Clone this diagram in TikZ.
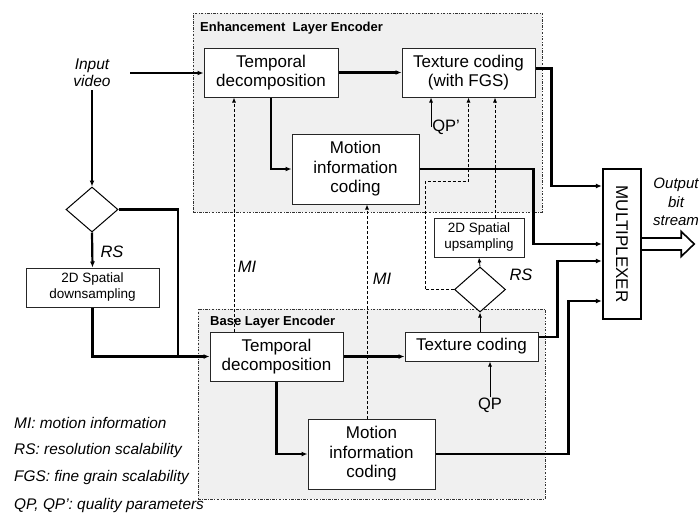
\documentclass[tikz,border=0pt]{standalone}
\usepackage{fontspec}
\setmainfont{Liberation Sans}
\usetikzlibrary{positioning,shapes.geometric,arrows.meta}
\tikzset{>={Latex[length=6pt,width=5pt]}}
\tikzset{
  block/.style={draw=black!85, fill=white, line width=1pt, align=center, inner sep=0pt, font=\fontsize{17}{19.5}\selectfont},
  smallblock/.style={block, font=\fontsize{13.5}{16}\selectfont},
  decision/.style={diamond, draw, fill=white, line width=1pt, inner sep=0pt, minimum width=52pt, minimum height=45pt},
  encframe/.style={draw=black!80, fill=gray!12, line width=0.7pt, dash pattern=on 2.5pt off 1.5pt on 0.7pt off 1.5pt, inner sep=0pt},
  layertitle/.style={font=\fontsize{13}{15}\selectfont\bfseries, inner sep=0pt, anchor=base west},
  note/.style={font=\fontsize{16.5}{18}\selectfont\itshape, inner sep=0pt},
  param/.style={font=\fontsize{16.5}{18}\selectfont, inner sep=0pt},
  keytext/.style={font=\fontsize{15.4}{18}\selectfont\itshape, inner sep=0pt, anchor=west},
  flow/.style={->, line width=2.2pt},
  thinflow/.style={->, line width=0.8pt, >={Latex[length=5pt,width=4pt]}},
  mi/.style={thinflow, dash pattern=on 3pt off 2pt},
}

\begin{document}
\begin{tikzpicture}[x=1pt, y=-1pt]
\useasboundingbox (0,0) rectangle (700,514);
% encoder layers
\node[encframe, minimum width=349pt, minimum height=199pt] (enh) at (367.5,112.5) {};
\node[encframe, minimum width=347pt, minimum height=190pt] (base) at (371.5,404) {};
\node[layertitle] (enhtitle) at (200,31) {Enhancement\ \ Layer Encoder};
\node[layertitle] (basetitle) at (210,325) {Base Layer Encoder};

% enhancement layer
\node[block, minimum width=134pt, minimum height=49pt] (enhtemp) at (271,72.5) {Temporal\\decomposition};
\node[block, minimum width=133pt, minimum height=49pt] (enhtex) at (468.5,72.5) {Texture coding\\(with FGS)};
\node[block, minimum width=127pt, minimum height=70pt] (enhmot) at (355.5,169) {Motion\\information\\coding};
% base layer
\node[block, minimum width=133pt, minimum height=49pt] (basetemp) at (276.5,356.5) {Temporal\\decomposition};
\node[block, minimum width=133pt, minimum height=29pt] (basetex) at (471.5,346.5) {Texture coding};
\node[block, minimum width=127pt, minimum height=70pt] (basemot) at (371.5,454) {Motion\\information\\coding};

% spatial scaling
\node[decision] (split) at (92,209.5) {};
\node[smallblock, minimum width=133pt, minimum height=39pt] (down) at (92.5,287.5) {2D Spatial\\downsampling};
\node[decision, minimum width=51pt] (upsel) at (480,289.5) {};
\node[smallblock, minimum width=90pt, minimum height=39pt] (up) at (479,237.5) {2D Spatial\\upsampling};
\node[block, line width=2.4pt, draw=black, minimum width=38pt, minimum height=150pt] (mux) at (622,244) {\rotatebox{-90}{MULTIPLEXER}};

% labels
\node[note, align=center, font=\fontsize{15.5}{17}\selectfont\itshape] (invid) at (92,73) {Input\\video};
\node[note, align=center, font=\fontsize{15}{18.5}\selectfont\itshape] (outbit) at (676,202) {Output\\bit\\stream};
\node[note] (rsdown) at (112,252) {RS};
\node[note] (rsup) at (521,275) {RS};
\node[note] (mienh) at (247,267) {MI};
\node[note] (mibase) at (382,279) {MI};
\node[param] (qpp) at (446,127) {QP’};
\node[param] (qp) at (490,405) {QP};
\coordinate (join) at (178,356.5);
\coordinate (bend) at (425,181);

% legend
\node[keytext] (k1) at (14,423) {MI: motion information};
\node[keytext] (k2) at (14,451) {RS: resolution scalability};
\node[keytext] (k3) at (14,478) {FGS: fine grain scalability};
\node[keytext] (k4) at (14,506) {QP, QP’: quality parameters};

% main flow
\draw[flow, shorten <=19.5pt] (invid.east) -- (invid.east -| enhtemp.west);
\draw[flow, shorten <=3pt] (invid.south) -- (split.north);
\draw[flow] (split.south) -- (down.north);
\draw[flow, -] (split.east) -| (join);
\draw[flow] (down.south) |- (basetemp.west);
\draw[flow] (enhtemp.east) -- (enhtex.west);
\draw[flow] (enhtemp.south) |- (enhmot.west);
\draw[flow] (basetemp.east) -- (basetemp.east -| basetex.west);
\draw[flow] (basetemp.south) |- (basemot.west);
% into the multiplexer
\draw[flow] ([yshift=4pt]enhtex.east) -- ++(16,0) |- ([yshift=58pt]mux.west);
\draw[flow] (enhmot.east) -- ++(114,0) |- (mux.west);
\draw[flow] ([yshift=9.5pt]basetex.east) -- ++(19,0) |- ([yshift=-17pt]mux.west);
\draw[flow] (basemot.east) -- ++(133,0) |- ([yshift=-57pt]mux.west);

% quality parameters
\draw[thinflow] (qp.north) -- (qp.north |- basetex.south);
\draw[thinflow] ([xshift=-1pt]qpp.west) -- ([xshift=-1pt]qpp.west |- enhtex.south);
% resolution scalability
\draw[thinflow] (upsel.south |- basetex.north) -- (upsel.south);
\draw[thinflow] (upsel.north) -- (up.south);
\draw[mi] (upsel.west) -| (bend) -| (enhtex.south);
\draw[mi] ([xshift=16pt]up.north) -- ([xshift=16pt]up.north |- enhtex.south);
% motion information
\draw[mi] ([xshift=-42.5pt]basetemp.north) -- ([xshift=-42.5pt]basetemp.north |- enhtemp.south);
\draw[mi] ([xshift=-4.5pt]basemot.north) -- ([xshift=-4.5pt]basemot.north |- enhmot.south);

% output bit stream
\draw[line width=1.6pt, fill=white] ([yshift=6pt]mux.east) -- ++(39,0) -- ++(0,-6.5) -- ++(13,12.5) -- ++(-13,12.5) -- ++(0,-6.5) -- ++(-39,0);
\end{tikzpicture}
\end{document}
